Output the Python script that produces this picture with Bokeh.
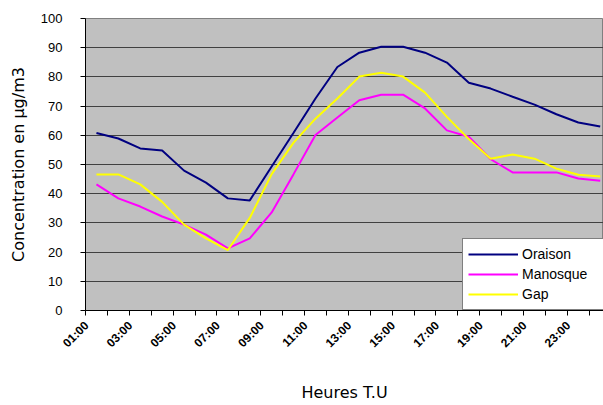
from bokeh.plotting import figure
from bokeh.models import Range1d, FixedTicker
from bokeh.embed import file_html
from bokeh.resources import INLINE

hours = ["01:00", "02:00", "03:00", "04:00", "05:00", "06:00", "07:00", "08:00",
         "09:00", "10:00", "11:00", "12:00", "13:00", "14:00", "15:00", "16:00",
         "17:00", "18:00", "19:00", "20:00", "21:00", "22:00", "23:00", "24:00"]
oraison = [60.8, 58.9, 55.5, 54.8, 47.9, 43.8, 38.4, 37.7, 49.3, 60.9, 72.6, 83.4,
           88.3, 90.3, 90.3, 88.3, 84.9, 78.0, 76.0, 73.2, 70.5, 67.2, 64.4, 63.0]
manosque = [43.2, 38.4, 35.6, 32.2, 29.4, 26.0, 21.3, 24.7, 33.6, 46.7, 60.1, 66.1,
            72.0, 73.9, 73.9, 69.2, 61.7, 59.5, 51.8, 47.3, 47.3, 47.3, 45.2, 44.4]
gap = [46.6, 46.6, 43.2, 37.2, 29.4, 24.7, 20.7, 31.7, 46.7, 57.5, 65.7, 72.6,
       80.1, 81.4, 80.1, 74.6, 66.3, 58.7, 52.0, 53.4, 52.0, 48.6, 46.5, 45.9]
y_ticks = list(range(0, 101, 10))

x = list(range(len(hours)))

p = figure(width=603, height=405, output_backend="svg", toolbar_location=None,
           x_range=Range1d(-0.5, 23.15), y_range=Range1d(0, 100),
           min_border_left=85, min_border_top=18, min_border_right=0,
           min_border_bottom=95)

p.background_fill_color = "#C0C0C0"
p.border_fill_color = "white"
p.outline_line_color = "#808080"

p.xgrid.grid_line_color = None
p.ygrid.ticker = FixedTicker(ticks=y_ticks)
p.ygrid.grid_line_color = "#404040"
p.ygrid.grid_line_width = 1

# y axis
p.yaxis.ticker = FixedTicker(ticks=y_ticks)
p.yaxis.axis_line_color = "black"
p.yaxis.major_tick_out = 5
p.yaxis.major_tick_in = 0
p.yaxis.minor_tick_line_color = None
p.yaxis.major_label_text_font = "Liberation Sans"
p.yaxis.major_label_text_font_size = "13px"
p.yaxis.major_label_text_color = "black"
p.yaxis.major_label_standoff = 18
p.yaxis.axis_label = "Concentration en µg/m3"
p.yaxis.axis_label_text_font = "DejaVu Sans"
p.yaxis.axis_label_text_font_style = "normal"
p.yaxis.axis_label_text_font_size = "16px"
p.yaxis.axis_label_text_color = "black"
p.yaxis.axis_label_standoff = 10

# x axis: labels every second hour, tick marks at category boundaries
label_idx = list(range(0, len(hours), 2))
label_pos = [i - 0.45 for i in label_idx]
p.xaxis.ticker = FixedTicker(ticks=label_pos,
                             minor_ticks=[i - 0.5 for i in range(len(hours) + 1)])
p.xaxis.major_label_overrides = {pos: hours[i] for pos, i in zip(label_pos, label_idx)}
p.xaxis.major_tick_out = 0
p.xaxis.major_tick_in = 0
p.xaxis.minor_tick_out = 5
p.xaxis.minor_tick_in = 0
p.xaxis.minor_tick_line_color = "black"
p.xaxis.axis_line_color = "black"
p.xaxis.major_label_orientation = 0.785
p.xaxis.major_label_text_font = "Liberation Sans"
p.xaxis.major_label_text_font_size = "12px"
p.xaxis.major_label_text_font_style = "bold"
p.xaxis.major_label_text_color = "black"
p.xaxis.major_label_standoff = 8
p.xaxis.axis_label = "Heures T.U"
p.xaxis.axis_label_text_font = "DejaVu Sans"
p.xaxis.axis_label_text_font_style = "normal"
p.xaxis.axis_label_text_font_size = "16px"
p.xaxis.axis_label_text_color = "black"
p.xaxis.axis_label_standoff = 25

p.line(x, oraison, line_color="#000080", line_width=2, legend_label="Oraison")
p.line(x, manosque, line_color="#FF00FF", line_width=2, legend_label="Manosque")
p.line(x, gap, line_color="#FFFF00", line_width=2, legend_label="Gap")

lg = p.legend[0]
lg.location = (377, 0)
lg.border_line_color = "black"
lg.border_line_width = 1
lg.background_fill_color = "white"
lg.background_fill_alpha = 1
lg.label_text_font = "Liberation Sans"
lg.label_text_font_size = "14px"
lg.label_text_color = "black"
lg.glyph_width = 50
lg.glyph_height = 20
lg.label_height = 20
lg.label_standoff = 4
lg.spacing = 0
lg.padding = 5
lg.margin = 0
lg.label_width = 90

open("out.html", "w").write(file_html(p, INLINE))
